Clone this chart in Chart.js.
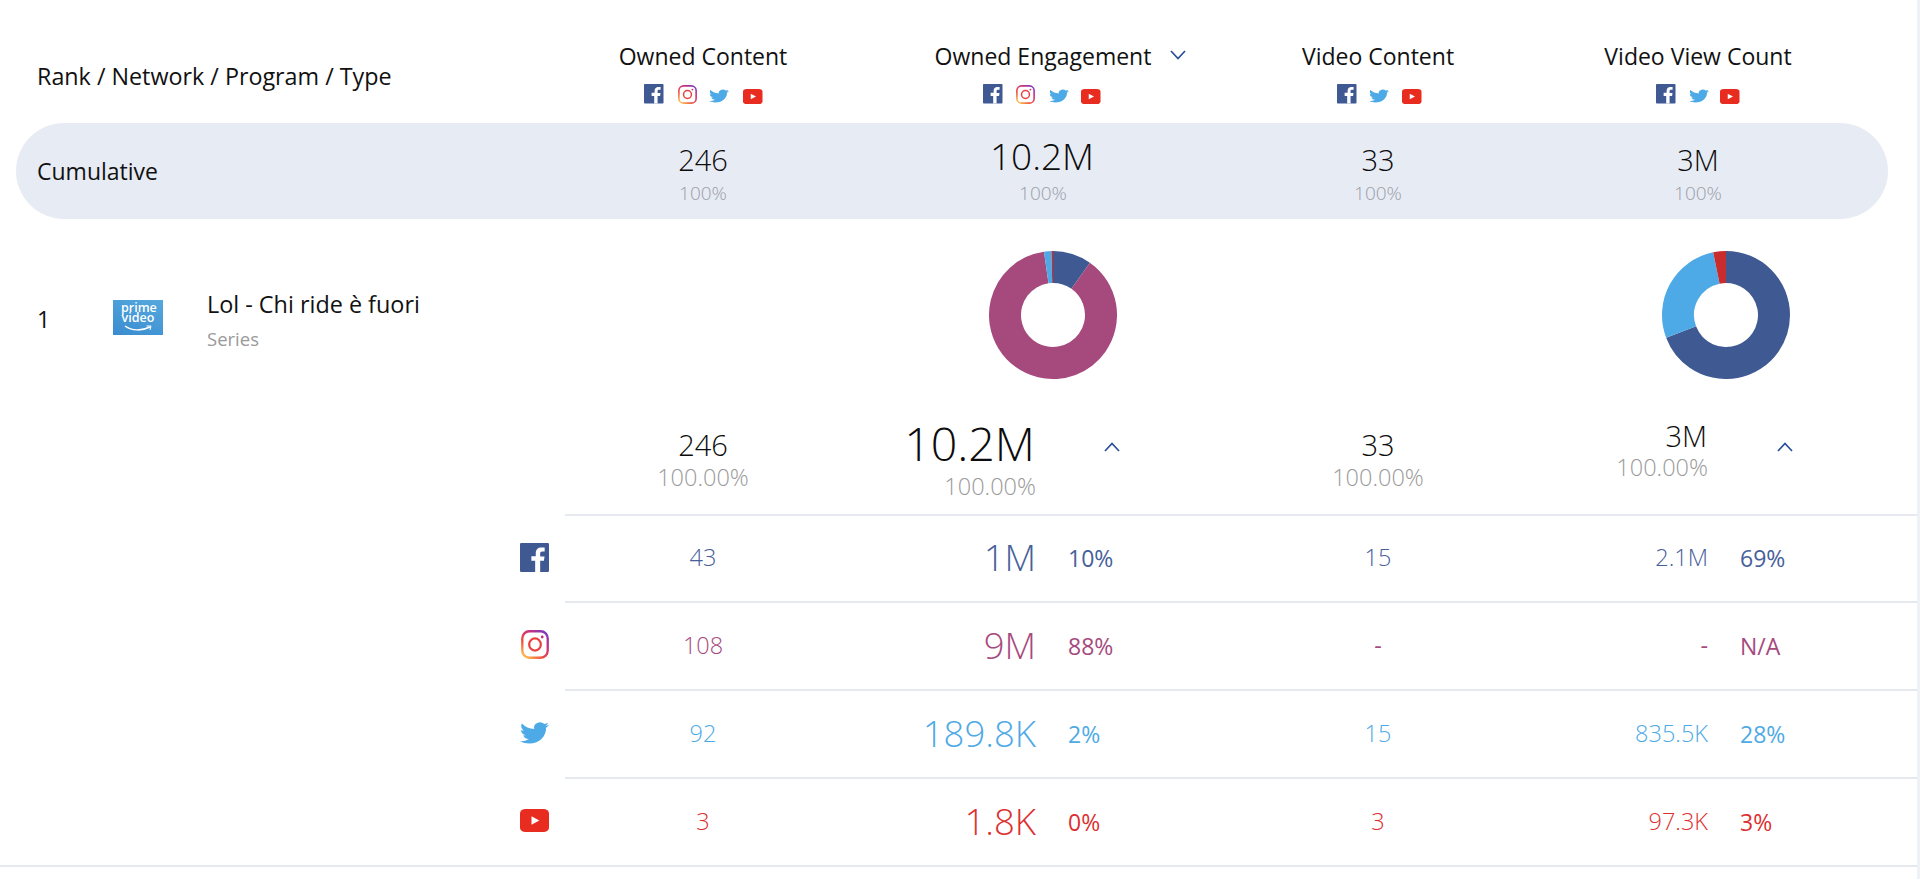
<!DOCTYPE html>
<html><head><meta charset="utf-8">
<script src="https://cdn.jsdelivr.net/npm/chart.js@4"></script>
<style>
html,body{margin:0;padding:0;background:#fff;width:1920px;height:879px;overflow:hidden}
body{position:relative;font-family:"Open Sans",sans-serif;color:#111}
.t{position:absolute;white-space:nowrap;line-height:1;transform:translateY(-50%)}
.c{transform:translate(-50%,-50%)}
.r{transform:translate(-100%,-50%)}
.band{position:absolute;left:16px;top:123px;width:1872px;height:96px;border-radius:48px;background:#e7ebf4}
.hr{position:absolute;height:2px;background:#e6eaf0;right:3px}
.strip{position:absolute;right:0;top:0;bottom:0;width:3px;background:#eef1f5}
svg{position:absolute;overflow:visible}
canvas{position:absolute}
.logo{position:absolute;left:113px;top:300px;width:50px;height:35px;background:linear-gradient(20deg,#3a8ccf,#55a9de)}
.logoText{position:absolute;left:8px;top:3px;width:34px;color:#fff;text-align:center;font-weight:600;font-size:12.5px;line-height:10px}
</style></head><body>
<div class="strip"></div>
<div class="band"></div>
<canvas id="donutEngagement" width="128" height="128" style="left:988.5px;top:251px"></canvas>
<canvas id="donutViews" width="128" height="128" style="left:1661.5px;top:251px"></canvas>
<script>
// ---- data ----
const networks = ['Facebook','Instagram','Twitter','YouTube'];
const colors = ['#3f5993','#a64a7e','#4eaae6','#c92c2c'];
const textColors = ['#46609a','#a64a7e','#4eaae6','#dc3030'];
const columns = ['Owned Content','Owned Engagement','Video Content','Video View Count'];
const headerLabel = 'Rank / Network / Program / Type';
const cumulativeLabel = 'Cumulative';
const cumulativeValues = ['246','10.2M','33','3M'];
const cumulativeShares = ['100%','100%','100%','100%'];
const programTotals = ['246','10.2M','33','3M'];
const programShares = ['100.00%','100.00%','100.00%','100.00%'];
const ownedContent = ['43','108','92','3'];
const ownedEngagement = ['1M','9M','189.8K','1.8K'];
const ownedEngagementPct = ['10%','88%','2%','0%'];
const videoContent = ['15','-','15','3'];
const videoViews = ['2.1M','-','835.5K','97.3K'];
const videoViewsPct = ['69%','N/A','28%','3%'];
const engagementValues = [1000000,9000000,189800,40000];
const viewValues = [2100000,0,835500,97300];

// ---- helpers ----
function text(s,x,y,size,opts){opts=opts||{};
  const d=document.createElement('div');
  d.className='t '+(opts.a||'');d.textContent=s;
  d.style.left=x+'px';d.style.top=y+'px';d.style.fontSize=size+'px';
  d.style.fontWeight=opts.w||400;d.style.color=opts.c||'#111';
  document.body.appendChild(d);return d;}
let gid=0;
function icon(kind,x,y,w,h){
  const ns='http://www.w3.org/2000/svg';
  const s=document.createElementNS(ns,'svg');
  s.setAttribute('width',w);s.setAttribute('height',h);s.setAttribute('viewBox','0 0 24 24');
  s.setAttribute('preserveAspectRatio','none');
  s.style.left=x+'px';s.style.top=y+'px';
  let m='';
  if(kind==='fb')m='<rect width="24" height="24" rx="1" fill="#3f5993"/><path fill="#fff" d="M16.7 24v-9.3h3.1l.5-3.6h-3.6V8.8c0-1 .3-1.75 1.8-1.75h1.9V3.8c-.3 0-1.45-.15-2.75-.15-2.75 0-4.6 1.65-4.6 4.7v2.55H9.4v3.8h3.15V24z"/>';
  if(kind==='ig'){const g='g'+(gid++);m='<defs><linearGradient id="'+g+'" x1="0.1" y1="1" x2="0.9" y2="0"><stop offset="0" stop-color="#fdc34f"/><stop offset=".35" stop-color="#ee4b40"/><stop offset=".7" stop-color="#c8307f"/><stop offset="1" stop-color="#7a3bc0"/></linearGradient></defs><rect x="1.1" y="1.1" width="21.8" height="21.8" rx="6" fill="none" stroke="url(#'+g+')" stroke-width="2"/><circle cx="12" cy="12" r="5" fill="none" stroke="#e8413f" stroke-width="1.9"/><circle cx="18.2" cy="5.8" r="1.2" fill="#c8307f"/>';}
  if(kind==='tw')m='<path fill="#4eaae6" d="M23.953 4.57a10 10 0 01-2.825.775 4.958 4.958 0 002.163-2.723c-.951.555-2.005.959-3.127 1.184a4.92 4.92 0 00-8.384 4.482C7.69 8.095 4.067 6.13 1.64 3.162a4.822 4.822 0 00-.666 2.475c0 1.71.87 3.213 2.188 4.096a4.904 4.904 0 01-2.228-.616v.06a4.923 4.923 0 003.946 4.827 4.996 4.996 0 01-2.212.085 4.936 4.936 0 004.604 3.417 9.867 9.867 0 01-6.102 2.105c-.39 0-.779-.023-1.17-.067a13.995 13.995 0 007.557 2.209c9.053 0 13.998-7.496 13.998-13.985 0-.21 0-.42-.015-.63A9.935 9.935 0 0024 4.59z"/>';
  if(kind==='yt')m='<rect width="24" height="24" rx="4.5" fill="#e82d20"/><path fill="#fff" d="M9.5 7.5 16 12l-6.5 4.5z"/>';
  s.innerHTML=m;document.body.appendChild(s);}
function headIcon(kind,x){
  if(kind==='fb')icon('fb',x,84,19.5,19.5);
  if(kind==='ig')icon('ig',x,85,19,19);
  if(kind==='tw')icon('tw',x,88,20,16);
  if(kind==='yt')icon('yt',x,89,19.5,15);}
function chevron(x,y,up){
  const s=document.createElementNS('http://www.w3.org/2000/svg','svg');
  s.setAttribute('width',16);s.setAttribute('height',10);
  s.style.left=(x-8)+'px';s.style.top=(y-5)+'px';
  s.innerHTML='<path d="'+(up?'M1 9 8 1.5 15 9':'M1 1 8 8.5 15 1')+'" fill="none" stroke="#2a4f98" stroke-width="1.7"/>';
  document.body.appendChild(s);}
function hr(x,y){const d=document.createElement('div');d.className='hr';d.style.left=x+'px';d.style.top=y+'px';document.body.appendChild(d);}

// ---- geometry ----
const colX=[703,1043,1378,1698];
const rowY=[557,645,733,821];
const lineY=[514,601,689,777];

// header
text(headerLabel,37,77,23.3);
columns.forEach((c,i)=>text(c,colX[i],56,23,{a:'c'}));
chevron(1178,55,false);
[['fb',644],['ig',678],['tw',709],['yt',743],
 ['fb',983],['ig',1016],['tw',1049],['yt',1081],
 ['fb',1337],['tw',1369],['yt',1402],
 ['fb',1656],['tw',1689],['yt',1720]].forEach(a=>headIcon(a[0],a[1]));

// cumulative
text(cumulativeLabel,37,171,23);
cumulativeValues.forEach((v,i)=>text(v,i===1?colX[i]-1:colX[i],i===1?155:159,i===1?37:29,{a:'c',w:300,c:'#0c0c0c'}));
cumulativeShares.forEach((v,i)=>text(v,colX[i],193,19,{a:'c',w:300,c:'#9a9fa8'}));

// program
text('1',37,319,23);
const logo=document.createElement('div');logo.className='logo';
logo.innerHTML='<div class="logoText">prime video</div><svg style="left:11px;top:25px" width="28" height="7" viewBox="0 0 28 7"><path d="M1 1C8 6 18 6 26 2" fill="none" stroke="#fff" stroke-width="1.5"/><path d="M22.5 1 27 1 26 5" fill="none" stroke="#fff" stroke-width="1"/></svg>';
document.body.appendChild(logo);
text('Lol - Chi ride è fuori',207,305,23.4);
text('Series',207,339,18.5,{c:'#9a9a9a'});

// program totals
text(programTotals[0],703,444,29,{a:'c',w:300,c:'#0c0c0c'});
text(programShares[0],703,478,23.5,{a:'c',w:300,c:'#9a9a9a'});
text(programTotals[1],1035,443,46.5,{a:'r',w:300,c:'#0c0c0c'});
text(programShares[1],1036,487,23.5,{a:'r',w:300,c:'#9a9a9a'});
text(programTotals[2],1378,444,29,{a:'c',w:300,c:'#0c0c0c'});
text(programShares[2],1378,478,23.5,{a:'c',w:300,c:'#9a9a9a'});
text(programTotals[3],1707,435,29,{a:'r',w:300,c:'#0c0c0c'});
text(programShares[3],1708,468,23.5,{a:'r',w:300,c:'#9a9a9a'});
chevron(1112,447,true);chevron(1785,447,true);

// rows
lineY.forEach(y=>hr(565,y));
hr(0,865);
icon('fb',520,543,29,29);
icon('ig',521,630,28,29);
icon('tw',520,720,29,26);
icon('yt',520,809,29,23);
networks.forEach((n,i)=>{
  const c=textColors[i],y=rowY[i]+1;
  const w=v=>v==='-'?400:300;
  text(ownedContent[i],703,y,23.5,{a:'c',w:w(ownedContent[i]),c});
  text(ownedEngagement[i],1036,rowY[i],36.5,{a:'r',w:300,c});
  text(ownedEngagementPct[i],1068,y,23,{c});
  text(videoContent[i],1378,y,23.5,{a:'c',w:w(videoContent[i]),c});
  text(videoViews[i],1708,y,23.5,{a:'r',w:w(videoViews[i]),c});
  text(videoViewsPct[i],1740,y,23,{c});
});

// donuts
function donut(id,values){
  new Chart(document.getElementById(id),{
    type:'doughnut',
    data:{labels:networks,datasets:[{data:values,backgroundColor:colors,borderWidth:0,hoverOffset:0}]},
    options:{responsive:false,animation:false,cutout:'50%',layout:{padding:0},
      plugins:{legend:{display:false},tooltip:{enabled:false}}}
  });
}
donut('donutEngagement',engagementValues);
donut('donutViews',viewValues);
</script>
</body></html>
